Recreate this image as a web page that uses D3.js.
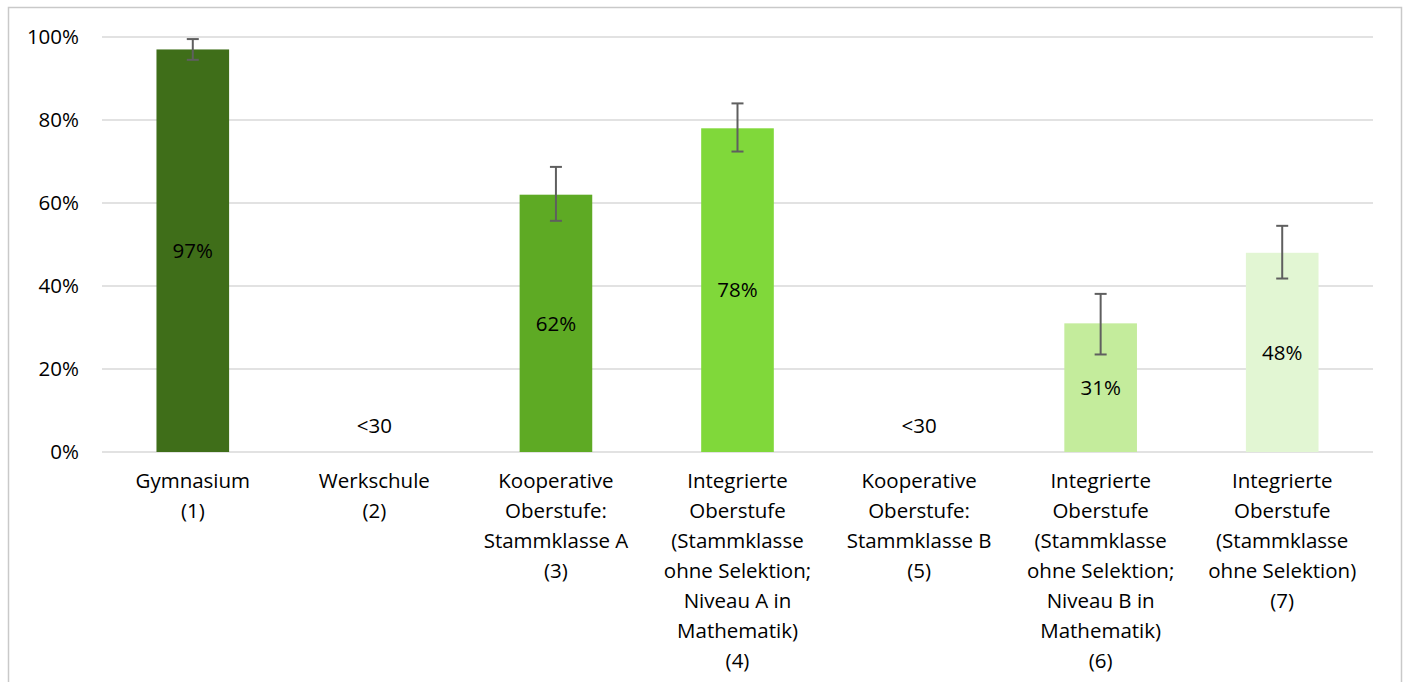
<!DOCTYPE html>
<html>
<head>
<meta charset="utf-8">
<script src="https://cdn.jsdelivr.net/npm/d3@7"></script>
<style>
  body { margin: 0; background: #fff; }
  svg { font-family: "Open Sans", "Noto Sans", sans-serif; }
</style>
</head>
<body>
<svg width="1407" height="682"></svg>
<script>
var categories = [
    ["Gymnasium", "(1)"],
    ["Werkschule", "(2)"],
    ["Kooperative", "Oberstufe:", "Stammklasse A", "(3)"],
    ["Integrierte", "Oberstufe", "(Stammklasse", "ohne Selektion;", "Niveau A in", "Mathematik)", "(4)"],
    ["Kooperative", "Oberstufe:", "Stammklasse B", "(5)"],
    ["Integrierte", "Oberstufe", "(Stammklasse", "ohne Selektion;", "Niveau B in", "Mathematik)", "(6)"],
    ["Integrierte", "Oberstufe", "(Stammklasse", "ohne Selektion)", "(7)"]
];
var values = [97, null, 62, 78, null, 31, 48];
var errLow = [94.5, null, 55.7, 72.4, null, 23.5, 41.8];
var errHigh = [99.5, null, 68.7, 84.0, null, 38.1, 54.5];
var labels = ["97%", "<30", "62%", "78%", "<30", "31%", "48%"];
var colors = ["#3f6e19", "#fff", "#5eaa24", "#80d83a", "#fff", "#c4ec9c", "#e2f6d3"];
var yTicks = [0, 20, 40, 60, 80, 100];

var svg = d3.select("svg"),
    margin = { top: 37, right: 34, bottom: 230, left: 102 },
    width = +svg.attr("width"),
    height = +svg.attr("height"),
    fs = 20.5;

// outer frame
svg.append("rect")
    .attr("x", 8.5).attr("y", 7.5)
    .attr("width", 1393).attr("height", 700)
    .attr("fill", "none")
    .attr("stroke", "#c9c9c9")
    .attr("stroke-width", 1.5);

var x = d3.scaleBand()
    .domain(d3.range(categories.length))
    .range([margin.left, width - margin.right])
    .paddingInner(0.6)
    .paddingOuter(0.3);

var y = d3.scaleLinear()
    .domain([0, 100])
    .range([height - margin.bottom, margin.top]);

// gridlines
svg.append("g")
    .selectAll("line")
    .data(yTicks)
    .enter().append("line")
    .attr("x1", margin.left)
    .attr("x2", width - margin.right)
    .attr("y1", function (d) { return y(d); })
    .attr("y2", function (d) { return y(d); })
    .attr("stroke", "#d9d9d9")
    .attr("stroke-width", 1.5);

// y tick labels
svg.append("g")
    .selectAll("text")
    .data(yTicks)
    .enter().append("text")
    .attr("x", 79)
    .attr("y", function (d) { return y(d); })
    .attr("dy", "0.35em")
    .attr("text-anchor", "end")
    .attr("font-size", fs)
    .attr("fill", "#000")
    .text(function (d) { return d + "%"; });

// bars
svg.append("g")
    .selectAll("rect")
    .data(values)
    .enter().filter(function (d) { return d !== null; })
    .append("rect")
    .attr("x", function (d) { return x(values.indexOf(d)); })
    .attr("y", function (d) { return y(d); })
    .attr("width", x.bandwidth())
    .attr("height", function (d) { return y(0) - y(d); })
    .attr("fill", function (d) { return colors[values.indexOf(d)]; });

// error bars
var eb = svg.append("g")
    .attr("stroke", "#5f5f5f")
    .attr("stroke-width", 2);
values.forEach(function (v, i) {
    if (v === null) return;
    var cx = x(i) + x.bandwidth() / 2;
    eb.append("line").attr("x1", cx).attr("x2", cx)
        .attr("y1", y(errLow[i])).attr("y2", y(errHigh[i]));
    eb.append("line").attr("x1", cx - 6).attr("x2", cx + 6)
        .attr("y1", y(errLow[i])).attr("y2", y(errLow[i]));
    eb.append("line").attr("x1", cx - 6).attr("x2", cx + 6)
        .attr("y1", y(errHigh[i])).attr("y2", y(errHigh[i]));
});

// value labels
svg.append("g")
    .selectAll("text")
    .data(labels)
    .enter().append("text")
    .attr("x", function (d, i) { return x(i) + x.bandwidth() / 2; })
    .attr("y", function (d, i) {
        return values[i] === null ? y(0) - 26 : (y(0) + y(values[i])) / 2;
    })
    .attr("dy", "0.35em")
    .attr("text-anchor", "middle")
    .attr("font-size", fs)
    .attr("fill", "#000")
    .text(function (d) { return d; });

// category labels
var cat = svg.append("g")
    .selectAll("text")
    .data(categories)
    .enter().append("text")
    .attr("text-anchor", "middle")
    .attr("font-size", fs)
    .attr("fill", "#000")
    .attr("transform", function (d, i) {
        return "translate(" + (x(i) + x.bandwidth() / 2) + "," + (y(0) + 29) + ")";
    });
cat.selectAll("tspan")
    .data(function (d) { return d; })
    .enter().append("tspan")
    .attr("x", 0)
    .attr("y", function (d, j) { return j * 30; })
    .attr("dy", "0.35em")
    .text(function (d) { return d; });
</script>
</body>
</html>
